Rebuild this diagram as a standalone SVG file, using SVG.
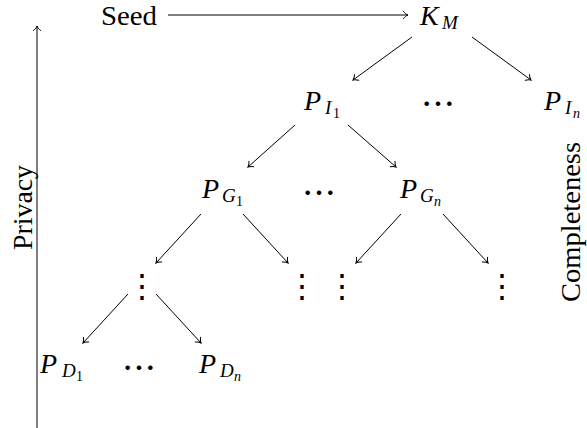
<svg xmlns="http://www.w3.org/2000/svg" width="587" height="428" viewBox="0 0 587 428">
<defs>
<marker id="tip" markerUnits="userSpaceOnUse" viewBox="-6 -5 7 10" refX="0" refY="0" markerWidth="7" markerHeight="10" orient="auto" overflow="visible">
<path d="M-4.5,-3.6 C-3,-1.6 -1.5,-0.5 0,0 C-1.5,0.5 -3,1.6 -4.5,3.6" fill="none" stroke="#000" stroke-width="1" stroke-linecap="round"/>
</marker>
</defs>
<g id="connectors" stroke="#000" stroke-width="1" marker-end="url(#tip)">
<line x1="168" y1="15" x2="408" y2="15"/>
<line x1="412" y1="37" x2="353" y2="80"/>
<line x1="472" y1="37" x2="531" y2="80"/>
<line x1="295" y1="125" x2="248" y2="167"/>
<line x1="348" y1="125" x2="396" y2="167"/>
<line x1="201" y1="214" x2="156" y2="263"/>
<line x1="243" y1="214" x2="288" y2="263"/>
<line x1="401" y1="214" x2="356" y2="263"/>
<line x1="443" y1="214" x2="488" y2="263"/>
<line x1="128" y1="294" x2="83" y2="343"/>
<line x1="156" y1="294" x2="201" y2="343"/>
<line x1="37" y1="428" x2="37" y2="26"/>
</g>
<g id="seed"><text font-family="Liberation Serif" font-size="28" x="101" y="25" textLength="56" lengthAdjust="spacingAndGlyphs">Seed</text></g>
<g id="km"><text font-family="Liberation Serif" font-size="28" font-style="italic" x="420" y="25">K</text><text font-family="Liberation Serif" font-size="19" font-style="italic" x="442" y="29">M</text></g>
<g id="pi1"><text font-family="Liberation Serif" font-size="28" font-style="italic" x="304" y="110">P</text><text font-family="Liberation Serif" font-size="19" font-style="italic" x="325" y="114">I</text><text font-family="Liberation Serif" font-size="14" x="333" y="118">1</text></g>
<g id="pin"><text font-family="Liberation Serif" font-size="28" font-style="italic" x="544" y="110">P</text><text font-family="Liberation Serif" font-size="19" font-style="italic" x="565" y="114">I</text><text font-family="Liberation Serif" font-size="14" font-style="italic" x="573" y="118">n</text></g>
<g id="pg1"><text font-family="Liberation Serif" font-size="28" font-style="italic" x="202" y="198">P</text><text font-family="Liberation Serif" font-size="19" font-style="italic" x="222" y="202">G</text><text font-family="Liberation Serif" font-size="14" x="236" y="206">1</text></g>
<g id="pgn"><text font-family="Liberation Serif" font-size="28" font-style="italic" x="400" y="198">P</text><text font-family="Liberation Serif" font-size="19" font-style="italic" x="420" y="202">G</text><text font-family="Liberation Serif" font-size="14" font-style="italic" x="434" y="206">n</text></g>
<g id="pd1"><text font-family="Liberation Serif" font-size="28" font-style="italic" x="40" y="373">P</text><text font-family="Liberation Serif" font-size="19" font-style="italic" x="62" y="377">D</text><text font-family="Liberation Serif" font-size="14" x="76" y="381">1</text></g>
<g id="pdn"><text font-family="Liberation Serif" font-size="28" font-style="italic" x="199" y="373">P</text><text font-family="Liberation Serif" font-size="19" font-style="italic" x="220" y="377">D</text><text font-family="Liberation Serif" font-size="14" font-style="italic" x="234" y="381">n</text></g>
<g id="privacy"><text font-family="Liberation Serif" font-size="28" transform="translate(32,250) rotate(-90)" textLength="85" lengthAdjust="spacingAndGlyphs">Privacy</text></g>
<g id="completeness"><text font-family="Liberation Serif" font-size="28" transform="translate(580,302) rotate(-90)" textLength="160" lengthAdjust="spacingAndGlyphs">Completeness</text></g>
<g id="ellipses" text-anchor="middle">
<g id="dots1"><text font-family="Noto Sans CJK JP" font-size="34" x="438" y="117">⋯</text></g>
<g id="dots2"><text font-family="Noto Sans CJK JP" font-size="34" x="319" y="206">⋯</text></g>
<g id="dots3"><text font-family="Noto Sans CJK JP" font-size="34" x="139" y="381">⋯</text></g>
<g id="v1"><text font-family="Noto Sans CJK JP" font-size="32" x="142" y="297">⋮</text></g>
<g id="v2"><text font-family="Noto Sans CJK JP" font-size="32" x="302" y="297">⋮</text></g>
<g id="v3"><text font-family="Noto Sans CJK JP" font-size="32" x="342" y="297">⋮</text></g>
<g id="v4"><text font-family="Noto Sans CJK JP" font-size="32" x="502" y="297">⋮</text></g>
</g>
</svg>
